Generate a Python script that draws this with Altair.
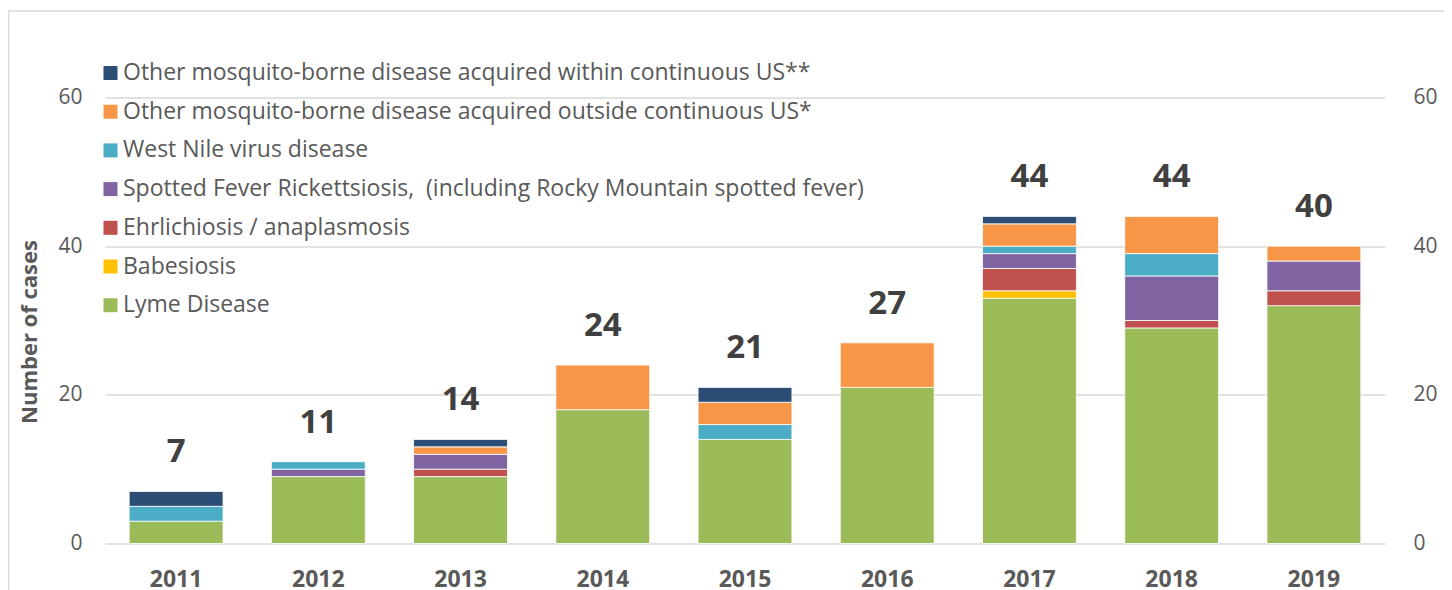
import altair as alt
import pandas as pd

years = ["2011", "2012", "2013", "2014", "2015", "2016", "2017", "2018", "2019"]
totals = [7, 11, 14, 24, 21, 27, 44, 44, 40]

# series listed bottom-up in the stack
series = [
    "Lyme Disease",
    "Babesiosis",
    "Ehrlichiosis / anaplasmosis",
    "Spotted Fever Rickettsiosis,\u00a0 (including Rocky Mountain spotted fever)",
    "West Nile virus disease",
    "Other mosquito-borne disease acquired outside continuous US*",
    "Other mosquito-borne disease acquired within continuous US**",
]
lyme = [3, 9, 9, 18, 14, 21, 33, 29, 32]
babesiosis = [0, 0, 0, 0, 0, 0, 1, 0, 0]
ehrlichiosis = [0, 0, 1, 0, 0, 0, 3, 1, 2]
spotted = [0, 1, 2, 0, 0, 0, 2, 6, 4]
west_nile = [2, 1, 0, 0, 2, 0, 1, 3, 0]
mosq_outside = [0, 0, 1, 6, 3, 6, 3, 5, 2]
mosq_within = [2, 0, 1, 0, 2, 0, 1, 0, 0]
colors = ["#9BBB59", "#FFC000", "#C0504D", "#8064A2", "#4BACC6", "#F79646", "#2C4D75"]

values = [lyme, babesiosis, ehrlichiosis, spotted, west_nile, mosq_outside, mosq_within]
rows = []
for rank, (name, vals) in enumerate(zip(series, values)):
    for yr, v in zip(years, vals):
        if v > 0:
            rows.append({"year": yr, "disease": name, "cases": v, "rank": rank})
df = pd.DataFrame(rows)
tot = pd.DataFrame({"year": years, "total": totals})

FONT = "Open Sans"
GREY = "#595959"

color_scale = alt.Scale(domain=list(reversed(series)), range=list(reversed(colors)))
yscale = alt.Scale(domain=[0, 60], nice=False, zero=True)
xscale = alt.Scale(paddingInner=0.34, paddingOuter=0.17)

xaxis = alt.Axis(labelAngle=0, labelFont=FONT, labelFontWeight="bold", labelFontSize=23,
                 labelColor=GREY, labelPadding=25, domain=False, ticks=False, title=None)

border = alt.Chart(pd.DataFrame({"a": [0]})).mark_rect(
    fill="white", fillOpacity=0, stroke="#d9d9d9", strokeWidth=1.5
).encode(x=alt.value(-96.5), x2=alt.value(1342), y=alt.value(-86.5), y2=alt.value(600))

bars = alt.Chart(df).mark_bar(stroke="white", strokeWidth=0.8).encode(
    x=alt.X("year:O", scale=xscale, axis=xaxis, title=None),
    y=alt.Y("cases:Q", stack="zero", scale=yscale,
            axis=alt.Axis(orient="left", values=[0, 20, 40, 60], title="Number of cases",
                          titleFont=FONT, titleFontSize=22, titleFontWeight="bold",
                          titleColor=GREY, titlePadding=16, titleY=234,
                          labelFont=FONT, labelFontSize=21, labelColor=GREY,
                          labelPadding=23, domain=False, ticks=False,
                          grid=True, gridColor="#d9d9d9", gridWidth=1.5)),
    color=alt.Color("disease:N", scale=color_scale,
                    legend=alt.Legend(title=None, orient="none", legendX=-6, legendY=-36,
                                      symbolType="square", symbolSize=196, symbolStrokeWidth=0,
                                      labelFont=FONT, labelFontSize=23, labelColor=GREY,
                                      labelOffset=1, rowPadding=14.7, padding=0,
                                      labelLimit=1000)),
    order=alt.Order("rank:Q", sort="ascending"),
)

text = alt.Chart(tot).mark_text(
    font=FONT, fontWeight="bold", fontSize=33, color="#404040", baseline="alphabetic", dy=-29
).encode(
    x=alt.X("year:O", scale=xscale, axis=xaxis, title=None),
    y=alt.Y("total:Q", scale=yscale,
            axis=alt.Axis(orient="right", values=[0, 20, 40, 60], title=None,
                          labelFont=FONT, labelFontSize=21, labelColor=GREY,
                          labelPadding=28, domain=False, ticks=False, grid=False)),
    text="total:Q",
)

chart = alt.layer(border, bars, text).resolve_scale(y="shared").resolve_axis(
    y="independent"
).properties(
    width=1280, height=446,
    autosize=alt.AutoSizeParams(type="none"),
    padding={"left": 97, "top": 89.5, "right": 59, "bottom": 48},
    background="white",
).configure_view(stroke=None)

chart.save("out.html", embed_options={"renderer": "svg", "actions": False})
